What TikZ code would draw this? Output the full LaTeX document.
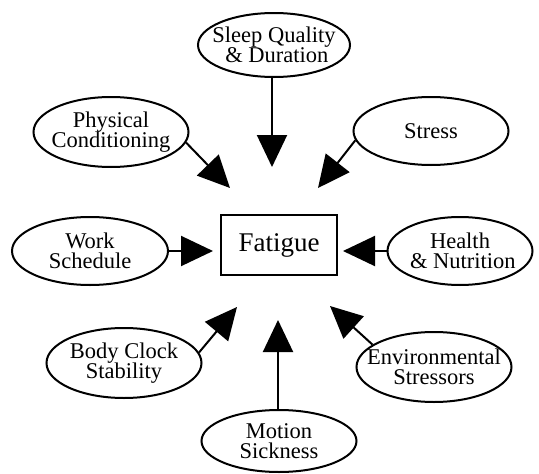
\documentclass[tikz,border=0pt]{standalone}
\usepackage{fontspec}
\setmainfont{Liberation Serif}
\usetikzlibrary{shapes.geometric,arrows.meta}
\begin{document}
\begin{tikzpicture}[x=1pt,y=-1pt,
  factor/.style={ellipse,draw,line width=2pt,inner xsep=-28pt,inner ysep=-10pt,align=center,
    font=\fontsize{22.5}{20.5}\selectfont,minimum width=155pt,minimum height=68pt},
  centerbox/.style={rectangle,draw,line width=2pt,minimum width=116pt,minimum height=60pt,
    font=\fontsize{27}{28}\selectfont},
  bigarrow/.style={line width=2pt,-{Triangle[length=32pt,width=30pt]}}]
\useasboundingbox (0,0) rectangle (539,474);
\node[centerbox] (fat) at (279,245) {Fatigue};
\node[factor,minimum width=152pt,minimum height=64pt] (sleep) at (274,45) {Sleep Quality\\\ \& Duration};
\node[factor,minimum height=70pt] (phys) at (111,132) {Physical\\Conditioning};
\node[factor] (stress) at (431,131) {Stress};
\node[factor,minimum width=156pt] (work) at (90,251) {Work\\Schedule};
\node[factor,minimum width=145pt] (health) at (460,251) {Health\\\ \& Nutrition};
\node[factor,minimum height=70pt] (body) at (124,363) {Body Clock\\Stability};
\node[factor,minimum height=62pt] (motion) at (279,441) {Motion\\Sickness};
\node[factor,minimum height=70pt] (env) at (434,367) {Environmental\\Stressors};
\coordinate (tsleep) at (272,167);
\coordinate (tphys) at (230,188);
\coordinate (tstress) at (318,188);
\coordinate (twork) at (213,251);
\coordinate (thealth) at (343,251);
\coordinate (tbody) at (237,307);
\coordinate (tenv) at (330,306);
\coordinate (tmotion) at (278,320);
\draw[bigarrow] (sleep.south -| tsleep) -- (tsleep);
\draw[bigarrow] (phys.-8) -- (tphys);
\draw[bigarrow] (stress.187) -- (tstress);
\draw[bigarrow] (work.east) -- (twork);
\draw[bigarrow] (health.west) -- (thealth);
\draw[bigarrow] (body.8) -- (tbody);
\draw[bigarrow] (env.160) -- (tenv);
\draw[bigarrow] (motion.north -| tmotion) -- (tmotion);
\end{tikzpicture}
\end{document}
